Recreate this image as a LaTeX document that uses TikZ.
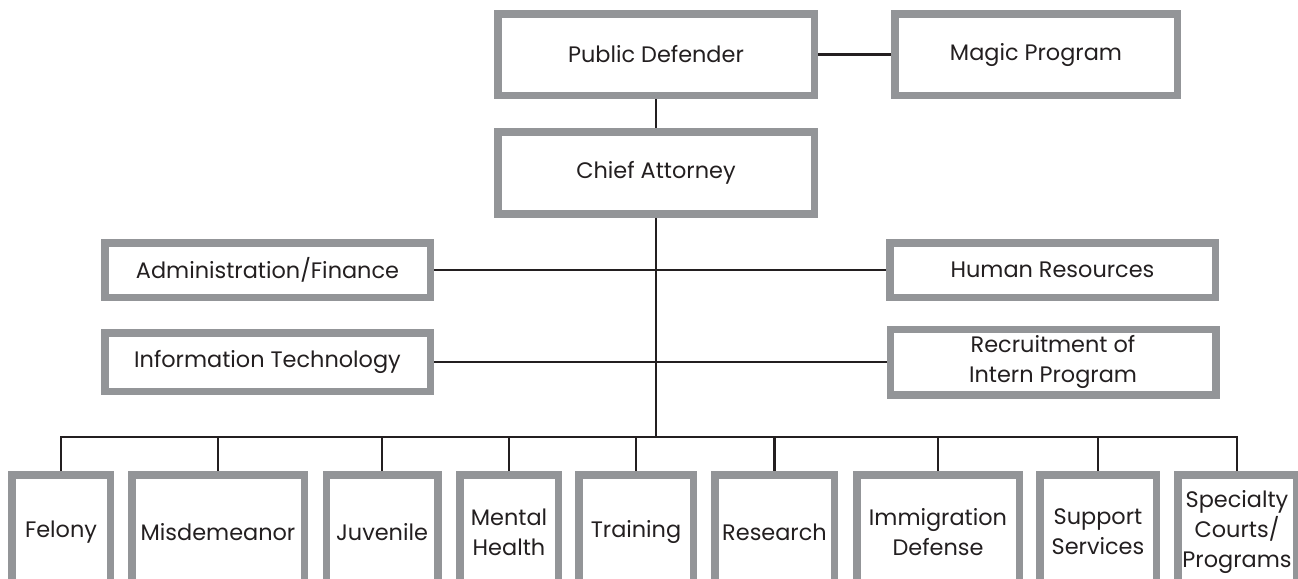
\documentclass[tikz,border=0pt]{standalone}
\usepackage{fontspec}
\setmainfont{Poppins}
\usepackage{tikz}
\usetikzlibrary{positioning}
\definecolor{boxgray}{HTML}{939598}
\definecolor{inkdark}{HTML}{231F20}

\begin{document}
\begin{tikzpicture}[x=0.5pt,y=-0.5pt]
 \tikzstyle{orgbox}=[rectangle,draw=boxgray,line width=3.75pt,fill=white,
   align=center,inner sep=1pt,text=inkdark,
   font=\fontsize{11.2}{15}\selectfont]
 \tikzstyle{unitbox}=[orgbox,minimum height=57.25pt]
 \tikzstyle{link}=[draw=inkdark,line width=1.3pt]
 \useasboundingbox (0,0) rectangle (1298,579);
 \clip (0,0) rectangle (1298,579);
 % top levels
 \node (pd) [orgbox,minimum width=158.25pt,minimum height=40.75pt]
   at (656,54.5) {Public Defender};
 \node (magic) [orgbox,minimum width=141.25pt,minimum height=40.75pt]
   at (1036,54.5) {Magic Program};
 \node (chief) [orgbox,minimum width=158.25pt,minimum height=41pt]
   at (656,173) {Chief Attorney};
 % staff units
 \node (admin) [orgbox,minimum width=162.75pt,minimum height=27.25pt]
   at (267.5,270) {Administration/Finance};
 \node (hr) [orgbox,minimum width=162.75pt,minimum height=27.25pt]
   at (1052.5,270) {Human Resources};
 \node (it) [orgbox,minimum width=162.75pt,minimum height=29.25pt]
   at (267.5,362) {Information Technology};
 \node (recruit) [orgbox,minimum width=162.75pt,minimum height=32.75pt]
   at (1053,362) {Recruitment of\\Intern Program};
 % divisions
 \node (felony) [unitbox,minimum width=49.25pt] at (61,532) {Felony};
 \node (misd) [unitbox,minimum width=86.25pt] at (218,532) {Misdemeanor};
 \node (juv) [unitbox,minimum width=55.75pt] at (382,532) {Juvenile};
 \node (mental) [unitbox,minimum width=49.25pt] at (509,532) {Mental\\Health};
 \node (train) [unitbox,minimum width=57.25pt] at (636,532) {Training};
 \node (research) [unitbox,minimum width=59.75pt] at (774.5,532) {Research};
 \node (immig) [unitbox,minimum width=81.25pt] at (938,532) {Immigration\\Defense};
 \node (support) [unitbox,minimum width=58.25pt] at (1098,532) {Support\\Services};
 \node (special) [unitbox,minimum width=59.25pt] at (1237,532)
   {Specialty\\Courts/\\Programs};
 \coordinate (bus) at (656,437);
 % connectors
 \draw[link] (pd) -- (magic);
 \draw[link] (pd) -- (chief);
 \draw[link] (chief.south) -- (bus);
 \draw[link] (admin) -- (hr);
 \draw[link] (it) -- (recruit);
 \foreach \unit in {felony,misd,juv,mental,train,research,immig,support,special}
   \draw[link] (bus) -| (\unit.north);
\end{tikzpicture}
\end{document}
